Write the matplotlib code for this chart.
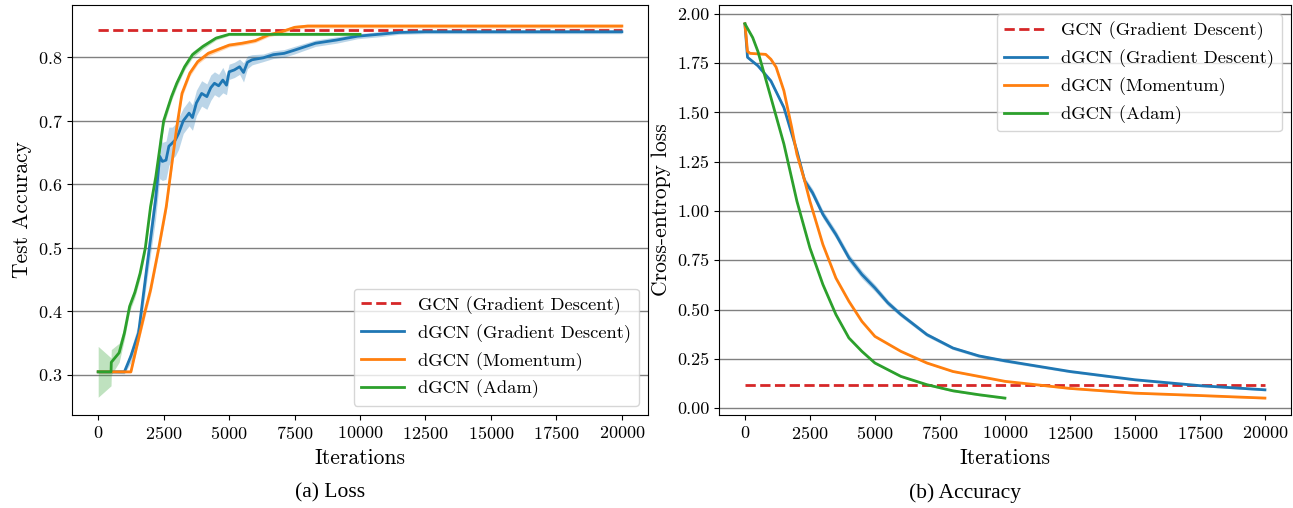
import numpy as np
import matplotlib.pyplot as plt

plt.rcParams['font.family'] = ['cmr10', 'DejaVu Serif']
plt.rcParams['axes.formatter.use_mathtext'] = True

# ---- (a) test accuracy ----
acc_gcn_x = [0, 20000]
acc_gcn = [0.843, 0.843]

acc_gd_x = [0, 500, 1000, 1250, 1540, 1860, 2190, 2350, 2450, 2590, 2700, 2830, 2950, 3070, 3250, 3470,
            3600, 3750, 3950, 4150, 4300, 4440, 4600, 4760, 4900, 5000, 5200, 5400, 5550, 5700, 5880,
            6300, 6690, 7100, 7490, 8300, 9100, 9900, 10700, 11500, 12500, 14000, 16000, 20000]
acc_gd = [0.305, 0.305, 0.305, 0.33, 0.366, 0.47, 0.575, 0.644, 0.636, 0.638, 0.66, 0.665, 0.67, 0.68, 0.70, 0.712,
          0.705, 0.728, 0.743, 0.738, 0.752, 0.759, 0.755, 0.764, 0.756, 0.777, 0.78, 0.785, 0.776, 0.792, 0.796,
          0.799, 0.804, 0.806, 0.811, 0.822, 0.827, 0.833, 0.836, 0.839, 0.840, 0.840, 0.840, 0.840]
acc_gd_sd = [0.002, 0.002, 0.003, 0.01, 0.015, 0.02, 0.03, 0.035, 0.03, 0.03, 0.03, 0.025, 0.025, 0.025, 0.02, 0.02,
             0.02, 0.02, 0.02, 0.02, 0.02, 0.018, 0.018, 0.02, 0.015, 0.012, 0.012, 0.012, 0.015, 0.01, 0.008,
             0.006, 0.006, 0.006, 0.006, 0.005, 0.005, 0.004, 0.004, 0.003, 0.003, 0.003, 0.003, 0.003]

acc_mom_x = [0, 1000, 1250, 1500, 1800, 2000, 2300, 2600, 2800, 3000, 3200, 3500, 3800, 4200, 5000, 5500,
             6000, 6500, 7000, 7500, 8000, 10000, 15000, 20000]
acc_mom = [0.305, 0.305, 0.305, 0.35, 0.402, 0.434, 0.497, 0.565, 0.628, 0.69, 0.743, 0.775, 0.793, 0.806,
           0.819, 0.822, 0.826, 0.835, 0.84, 0.847, 0.849, 0.849, 0.849, 0.849]
acc_mom_sd = [0.002, 0.002, 0.002, 0.006, 0.008, 0.008, 0.008, 0.008, 0.008, 0.008, 0.006, 0.005, 0.004, 0.004,
              0.003, 0.003, 0.003, 0.003, 0.003, 0.003, 0.003, 0.003, 0.003, 0.003]

acc_adam_x = [0, 490, 500, 800, 1000, 1200, 1400, 1600, 1800, 2000, 2200, 2500, 2800, 3000, 3300, 3600,
              4000, 4500, 5000, 6000, 8000, 10000]
acc_adam = [0.305, 0.305, 0.32, 0.335, 0.366, 0.408, 0.43, 0.46, 0.50, 0.565, 0.612, 0.70, 0.738, 0.759,
            0.785, 0.804, 0.817, 0.83, 0.836, 0.836, 0.836, 0.836]
acc_adam_sd = [0.04, 0.022, 0.02, 0.015, 0.01, 0.008, 0.008, 0.008, 0.008, 0.008, 0.008, 0.008, 0.006, 0.006,
               0.005, 0.005, 0.004, 0.003, 0.002, 0.002, 0.002, 0.002]

# ---- (b) cross-entropy loss ----
loss_gcn_x = [0, 20000]
loss_gcn = [0.115, 0.115]

loss_gd_x = [0, 100, 500, 1000, 1500, 2000, 2300, 2600, 3000, 3500, 4000, 4500, 5000, 5500, 6000, 7000,
             8000, 9000, 10000, 12500, 15000, 17500, 20000]
loss_gd = [1.95, 1.78, 1.737, 1.66, 1.525, 1.305, 1.153, 1.093, 0.983, 0.881, 0.763, 0.678, 0.61, 0.534, 0.475,
           0.373, 0.305, 0.265, 0.24, 0.186, 0.144, 0.114, 0.093]
loss_gd_sd = [0.005, 0.005, 0.008, 0.01, 0.012, 0.015, 0.018, 0.02, 0.02, 0.02, 0.02, 0.02, 0.018, 0.015,
              0.012, 0.01, 0.008, 0.008, 0.007, 0.006, 0.005, 0.005, 0.005]

loss_mom_x = [0, 100, 200, 800, 1000, 1200, 1500, 1800, 2000, 2300, 2500, 3000, 3500, 4000, 4500, 5000,
              6000, 7000, 8000, 10000, 12500, 15000, 17500, 20000]
loss_mom = [1.95, 1.81, 1.80, 1.795, 1.77, 1.73, 1.61, 1.424, 1.288, 1.153, 1.05, 0.83, 0.66, 0.542, 0.44,
            0.364, 0.288, 0.229, 0.186, 0.136, 0.10, 0.076, 0.064, 0.051]
loss_mom_sd = [0.004] * len(loss_mom_x)

loss_adam_x = [0, 300, 500, 1000, 1500, 2000, 2500, 3000, 3500, 4000, 4500, 5000, 6000, 7000, 8000, 9000, 10000]
loss_adam = [1.95, 1.88, 1.81, 1.576, 1.34, 1.05, 0.813, 0.627, 0.475, 0.356, 0.288, 0.229, 0.161, 0.119,
             0.088, 0.068, 0.051]
loss_adam_sd = [0.005] * len(loss_adam_x)

labels = ['GCN (Gradient Descent)', 'dGCN (Gradient Descent)', 'dGCN (Momentum)', 'dGCN (Adam)']


def draw(ax, gcn, series):
    ax.plot(gcn[0], gcn[1], '--', color='tab:red', lw=2, label=labels[0])
    for (x, y, sd), c, lab in zip(series, ['tab:blue', 'tab:orange', 'tab:green'], labels[1:]):
        x = np.array(x)
        y = np.array(y)
        sd = np.array(sd)
        ax.fill_between(x, y - sd, y + sd, color=c, alpha=0.3, lw=0)
        ax.plot(x, y, color=c, lw=2, label=lab)
    ax.grid(axis='y', color='gray', lw=1)
    ax.set_axisbelow(True)
    ax.set_xticks(np.arange(0, 20001, 2500))
    ax.set_xlim(-1000, 21000)
    ax.tick_params(labelsize=13)
    ax.set_xlabel('Iterations', fontsize=15.5, labelpad=5)


fig = plt.figure(figsize=(12.93, 5.08), dpi=100)
ax1 = fig.add_axes([0.0557, 0.183, 0.4455, 0.807])
ax2 = fig.add_axes([0.556, 0.183, 0.4424, 0.807])

draw(ax1, (acc_gcn_x, acc_gcn), [(acc_gd_x, acc_gd, acc_gd_sd), (acc_mom_x, acc_mom, acc_mom_sd),
                                 (acc_adam_x, acc_adam, acc_adam_sd)])
ax1.set_ylim(0.237, 0.882)
ax1.set_ylabel('Test Accuracy', fontsize=15.5)
ax1.legend(loc='lower right', fontsize=13.3, handlelength=2.3)

draw(ax2, (loss_gcn_x, loss_gcn), [(loss_gd_x, loss_gd, loss_gd_sd), (loss_mom_x, loss_mom, loss_mom_sd),
                                   (loss_adam_x, loss_adam, loss_adam_sd)])
ax2.set_ylim(-0.035, 2.045)
ax2.set_yticks(np.arange(0, 2.01, 0.25))
ax2.yaxis.set_major_formatter(plt.FormatStrFormatter('%.2f'))
ax2.set_ylabel('Cross-entropy loss', fontsize=15.5)
ax2.legend(loc='upper right', fontsize=13.3, handlelength=2.3)

fig.text(0.255, 0.02, '(a) Loss', fontsize=15.5, ha='center', family='Liberation Serif')
fig.text(0.746, 0.02, '(b) Accuracy', fontsize=15.5, ha='center', family='Liberation Serif')

fig.savefig('out.png')
